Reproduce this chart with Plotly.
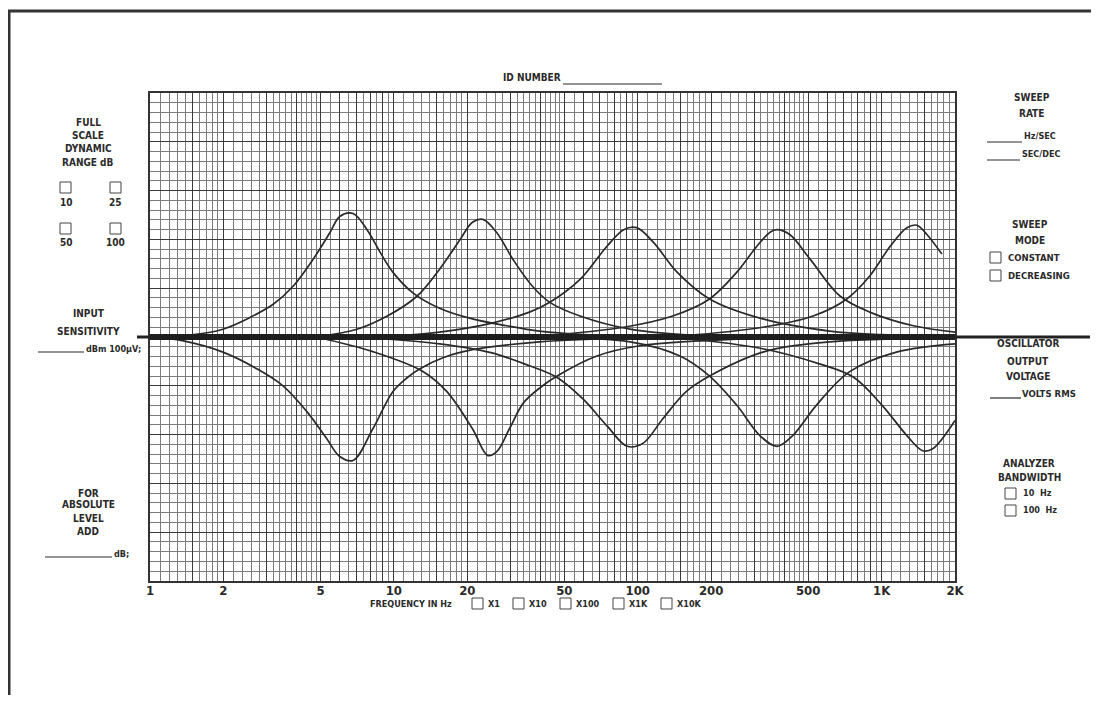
import plotly.graph_objects as go
import numpy as np

# ---------------- data ----------------
# frequency (Hz) and relative level for each recorded sweep
P1_f = [1, 1.46, 1.99, 2.57, 3.2, 3.86, 4.66, 5.47, 6.0, 6.8, 7.76, 8.8, 9.9, 12, 15.4, 21, 29, 39.6, 60, 100]
P1_v = [0, 0.4, 1.6, 4.0, 6.7, 10.4, 15.9, 21.4, 24.7, 25.3, 22, 17.3, 13.3, 9.0, 5.9, 3.7, 2.3, 1.2, 0.5, 0.2]

P2_f = [5, 7.06, 9.4, 12.4, 15.4, 18.7, 21, 23.2, 26.4, 30.8, 37, 43.6, 58, 93, 175, 300]
P2_v = [0.2, 1.6, 4.3, 8.3, 13.9, 20, 23.5, 24.1, 21.4, 15.9, 10.4, 7.1, 4.3, 1.6, 0.3, 0.1]

P3_f = [10, 15.4, 25, 36, 43.6, 58, 74.8, 87.6, 99, 116, 145, 197, 326, 613, 1000, 2000]
P3_v = [0.2, 1.0, 2.8, 5.1, 7.1, 11.8, 18.6, 22, 22.4, 19.4, 13.3, 7.8, 3.7, 1.2, 0.5, 0.2]

P4_f = [40, 87.6, 139, 197, 255, 308, 350, 372, 420, 510, 675, 894, 1350, 2000]
P4_v = [0.2, 2, 4.3, 7.8, 13.3, 18.6, 21.5, 22, 21, 15.9, 8.4, 5.1, 2.3, 1.0]

P5_f = [150, 326, 524, 720, 894, 1085, 1270, 1396, 1534, 1766]
P5_v = [0.2, 2, 4.3, 7.8, 12.5, 18.6, 22.4, 22.9, 21, 17]

D1_f = [1, 1.37, 1.99, 2.74, 3.51, 4.4, 5.3, 6.0, 6.8, 8.2, 9.9, 11.3, 12.8, 16, 21, 39.6, 100]
D1_v = [0, -0.8, -3.1, -6.5, -10, -15.3, -20.8, -24.5, -25.3, -18.8, -11.2, -8.4, -6.5, -4.2, -2.6, -1, -0.2]

D2_f = [5, 8.2, 13.2, 16.5, 21, 24.3, 26.4, 30, 34, 40, 46.7, 68, 102, 240, 500]
D2_v = [-0.2, -3.0, -7.1, -11.2, -18.8, -24.3, -23.5, -18.5, -13.5, -10.3, -8, -3.9, -1.8, -0.5, -0.2]

D3_f = [8, 15.4, 25, 36, 46.7, 59.6, 74.8, 90.5, 105, 127, 158, 197, 326, 613, 2000]
D3_v = [-0.2, -1.4, -3.2, -5.9, -8.3, -12.7, -18.2, -22.4, -21.8, -16.7, -11.2, -8, -3.1, -1, -0.3]

D4_f = [40, 93, 149, 197, 255, 317, 372, 432, 540, 740, 1150, 2000]
D4_v = [-0.2, -1, -3.9, -8, -14, -20.2, -22.4, -20.2, -14, -7.1, -3.1, -1.4]

D5_f = [150, 326, 556, 765, 1005, 1270, 1475, 1620, 2000]
D5_v = [-0.2, -2.4, -5.5, -8.2, -14, -20.2, -23.3, -22.9, -17.1]

BASE_f = [1, 2000]
BASE_v = [0, 0]

# axis tick labels
TICK_VALS = [1, 2, 5, 10, 20, 50, 100, 200, 500, 1000, 2000]
TICK_TEXT = ["1", "2", "5", "10", "20", "50", "100", "200", "500", "1K", "2K"]

# ---------------- grid positions (log graph paper) ----------------
major_x, minor_x = [], []
for dec in [1, 10, 100, 1000]:
    for m in [1, 1.5, 2, 3, 4, 5, 6, 7, 8, 9]:
        major_x.append(m * dec)
    for m in [1.1, 1.2, 1.3, 1.4, 1.6, 1.7, 1.8, 1.9,
              2.2, 2.4, 2.6, 2.8, 3.2, 3.4, 3.6, 3.8, 4.2, 4.4, 4.6, 4.8,
              5.5, 6.5, 7.5, 8.5, 9.5]:
        minor_x.append(m * dec)
major_x = [v for v in major_x if v <= 2000] + [2000]
minor_x = [v for v in minor_x if v < 2000]
label_map = dict(zip(TICK_VALS, TICK_TEXT))
major_text = [label_map.get(v, "") for v in major_x]

FONT = "Liberation Sans Narrow, DejaVu Sans Condensed, Arial Narrow, sans-serif"
INK = "#2a2a2a"

OFF = 8  # page body margin of the browser
W, H = 1083, 687
L, T = 150 - OFF, 93 - OFF
R = W - (955 - OFF)
B = H - (581 - OFF)
PW, PH = W - L - R, H - T - B


def xp(px):  # screen pixel -> paper
    return (px - OFF - L) / PW


def yp(py):
    return (H - B - (py - OFF)) / PH


fig = go.Figure()

curves = [(P1_f, P1_v), (P2_f, P2_v), (P3_f, P3_v), (P4_f, P4_v), (P5_f, P5_v),
          (D1_f, D1_v), (D2_f, D2_v), (D3_f, D3_v), (D4_f, D4_v), (D5_f, D5_v)]
for f, v in curves:
    fig.add_trace(go.Scatter(x=f, y=v, mode="lines",
                             line=dict(color=INK, width=1.7, shape="spline", smoothing=1.0),
                             hoverinfo="skip", showlegend=False))

fig.add_trace(go.Scatter(x=BASE_f, y=BASE_v, mode="lines",
                         line=dict(color="#1e1e1e", width=6),
                         hoverinfo="skip", showlegend=False))

shapes = []
# page border
shapes.append(dict(type="line", xref="paper", yref="paper", x0=xp(9), x1=xp(9), y0=yp(10), y1=yp(703),
                   line=dict(color="#333", width=3)))
shapes.append(dict(type="line", xref="paper", yref="paper", x0=xp(8), x1=xp(1099), y0=yp(11), y1=yp(11),
                   line=dict(color="#333", width=3)))
# baseline extensions outside the grid
shapes.append(dict(type="line", xref="paper", yref="y", x0=xp(955), x1=xp(1090), y0=0, y1=0,
                   line=dict(color="#222", width=3)))
shapes.append(dict(type="line", xref="paper", yref="y", x0=xp(137), x1=xp(150), y0=0, y1=0,
                   line=dict(color="#222", width=3)))


def hline(px0, px1, py, w=1.2):
    shapes.append(dict(type="line", xref="paper", yref="paper", x0=xp(px0), x1=xp(px1), y0=yp(py), y1=yp(py),
                       line=dict(color=INK, width=w)))


def box(px0, py0, s=11):
    shapes.append(dict(type="rect", xref="paper", yref="paper", x0=xp(px0), x1=xp(px0 + s),
                       y0=yp(py0 + s), y1=yp(py0), line=dict(color="#444", width=1), fillcolor="white"))


annotations = []


def ann(text, px, py, size=10, xanchor="center"):
    annotations.append(dict(text=text, x=xp(px), y=yp(py), xref="paper", yref="paper",
                            xanchor=xanchor, yanchor="middle", showarrow=False,
                            font=dict(family=FONT, size=size, color=INK, weight="bold"),
                            align="center"))


# ID number
ann("ID NUMBER", 563, 78, xanchor="right")
hline(563, 662, 84)

# left column
ann("FULL", 88, 122)
ann("SCALE", 88, 135)
ann("DYNAMIC", 88, 148)
ann("RANGE dB", 88, 162)
box(60, 182)
box(110, 182)
ann("10", 66, 202)
ann("25", 115, 202)
box(60, 223)
box(110, 223)
ann("50", 66, 243)
ann("100", 115, 243)

ann("INPUT", 89, 313)
ann("SENSITIVITY", 88, 331)
hline(38, 84, 352)
ann("dBm 100µV;", 84, 349, size=9, xanchor="left")

ann("FOR", 88, 493)
ann("ABSOLUTE", 88, 505)
ann("LEVEL", 88, 518)
ann("ADD", 88, 531)
hline(45, 112, 557)
ann("dB;", 112, 554, size=9, xanchor="left")

# right column
ann("SWEEP", 1032, 98)
ann("RATE", 1032, 113)
hline(987, 1022, 142)
ann("Hz/SEC", 1022, 136, size=9, xanchor="left")
hline(987, 1020, 160)
ann("SEC/DEC", 1020, 154, size=9, xanchor="left")

ann("SWEEP", 1030, 225)
ann("MODE", 1030, 240)
box(990, 252)
ann("CONSTANT", 1006, 257, size=9.5, xanchor="left")
box(990, 270)
ann("DECREASING", 1006, 275, size=9.5, xanchor="left")

ann("OSCILLATOR", 1028, 343)
ann("OUTPUT", 1028, 361)
ann("VOLTAGE", 1028, 376)
hline(990, 1021, 398)
ann("VOLTS RMS", 1020, 393, size=9.5, xanchor="left")

ann("ANALYZER", 1029, 463)
ann("BANDWIDTH", 1029, 477)
box(1005, 488)
ann("10  Hz", 1021, 493, size=9, xanchor="left")
box(1005, 505)
ann("100  Hz", 1021, 510, size=9, xanchor="left")

# bottom frequency multipliers
ann("FREQUENCY IN Hz", 368, 604, size=9, xanchor="left")
for bx, lab in [(472, "X1"), (513, "X10"), (560, "X100"), (613, "X1K"), (661, "X10K")]:
    box(bx, 598)
    ann(lab, bx + 14, 604, size=9, xanchor="left")

fig.update_layout(
    width=W, height=H,
    margin=dict(l=L, r=R, t=T, b=B, pad=0),
    paper_bgcolor="white", plot_bgcolor="white",
    showlegend=False,
    shapes=shapes,
    annotations=annotations,
    xaxis=dict(type="log", range=[0, np.log10(2000)],
               tickmode="array", tickvals=major_x, ticktext=major_text,
               showgrid=True, gridcolor="#3a3a3a", gridwidth=1.2,
               minor=dict(tickmode="array", tickvals=minor_x, showgrid=True,
                          gridcolor="#7c7c7c", gridwidth=1, ticks=""),
               ticks="", ticklabelstandoff=-4,
               showline=True, mirror=True, linecolor="#333", linewidth=2,
               zeroline=False, fixedrange=True,
               tickfont=dict(family=FONT, size=13, color=INK, weight="bold")),
    yaxis=dict(range=[-50, 50], tickmode="linear", tick0=0, dtick=10,
               showticklabels=False, ticks="",
               showgrid=True, gridcolor="#3a3a3a", gridwidth=1.2,
               minor=dict(tick0=0, dtick=2, showgrid=True, gridcolor="#7c7c7c", gridwidth=1, ticks=""),
               showline=True, mirror=True, linecolor="#333", linewidth=2,
               zeroline=False, fixedrange=True),
)

fig.write_html("out.html")
